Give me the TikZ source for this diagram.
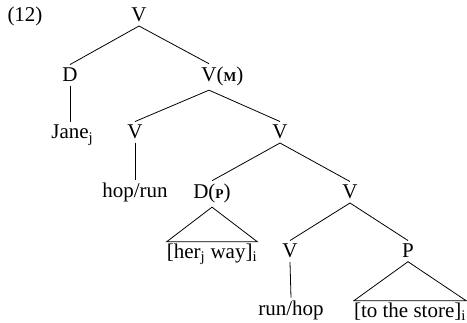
\documentclass[tikz,border=0pt]{standalone}
\usepackage{fontspec}
\setmainfont{Liberation Serif}
\usetikzlibrary{positioning}
\tikzset{
    every node/.style={font=\fontsize{21}{24}\selectfont, inner sep=3.5pt, anchor=base},
    leaf/.style={inner xsep=0pt, inner ysep=2pt},
    branch/.style={line width=.8pt},
}
\newcommand{\feat}[1]{{\fontsize{13.5}{13.5}\selectfont\bfseries #1}}

\begin{document}
\begin{tikzpicture}[x=1pt, y=-1pt]
    \useasboundingbox (0,0) rectangle (467,323);

    \node (ex) at (25,22) {(12)};
    \node (vtop) at (139,22) {V};

    \node (d) at (70,82) {D};
    \node (vm) at (209,82) {V\rlap{(\feat{M})}};

    \node (jane) at (70,139) {Jane\rlap{\textsubscript{j}}};
    \node (vhr) at (135,139) {V};
    \node (vmid) at (280,139) {V};

    \node (hoprun) at (135,198) {hop/run};
    \node (dp) at (212,199) {D(\feat{P})};
    \node (vr) at (350,199) {V};

    \node[leaf] (herway) at (212,258.5) {[her\textsubscript{j} way]\textsubscript{i}};
    \node (vrh) at (290,258) {V};
    \node (p) at (408,258) {P};

    \node (runhop) at (291,316) {run/hop};
    \node[leaf] (store) at (410,317.5) {[to the store]\textsubscript{i}};

    \draw[branch] (vtop.south) -- (d.north);
    \draw[branch] (vtop.south) -- (vm.north);
    \draw[branch] (d.south) -- (jane.north);
    \draw[branch] (vm.south) -- (vhr.north);
    \draw[branch] (vm.south) -- (vmid.north);
    \draw[branch] (vhr.south) -- (hoprun.north);
    \draw[branch] (vmid.south) -- (dp.north);
    \draw[branch] (vmid.south) -- (vr.north);
    \draw[branch] (dp.south) -- (herway.north west) -- (herway.north east) -- cycle;
    \draw[branch] (vr.south) -- (vrh.north);
    \draw[branch] (vr.south) -- (p.north);
    \draw[branch] (vrh.south) -- (runhop.north);
    \draw[branch] (p.south) -- (store.north west) -- (store.north east) -- cycle;
\end{tikzpicture}
\end{document}
